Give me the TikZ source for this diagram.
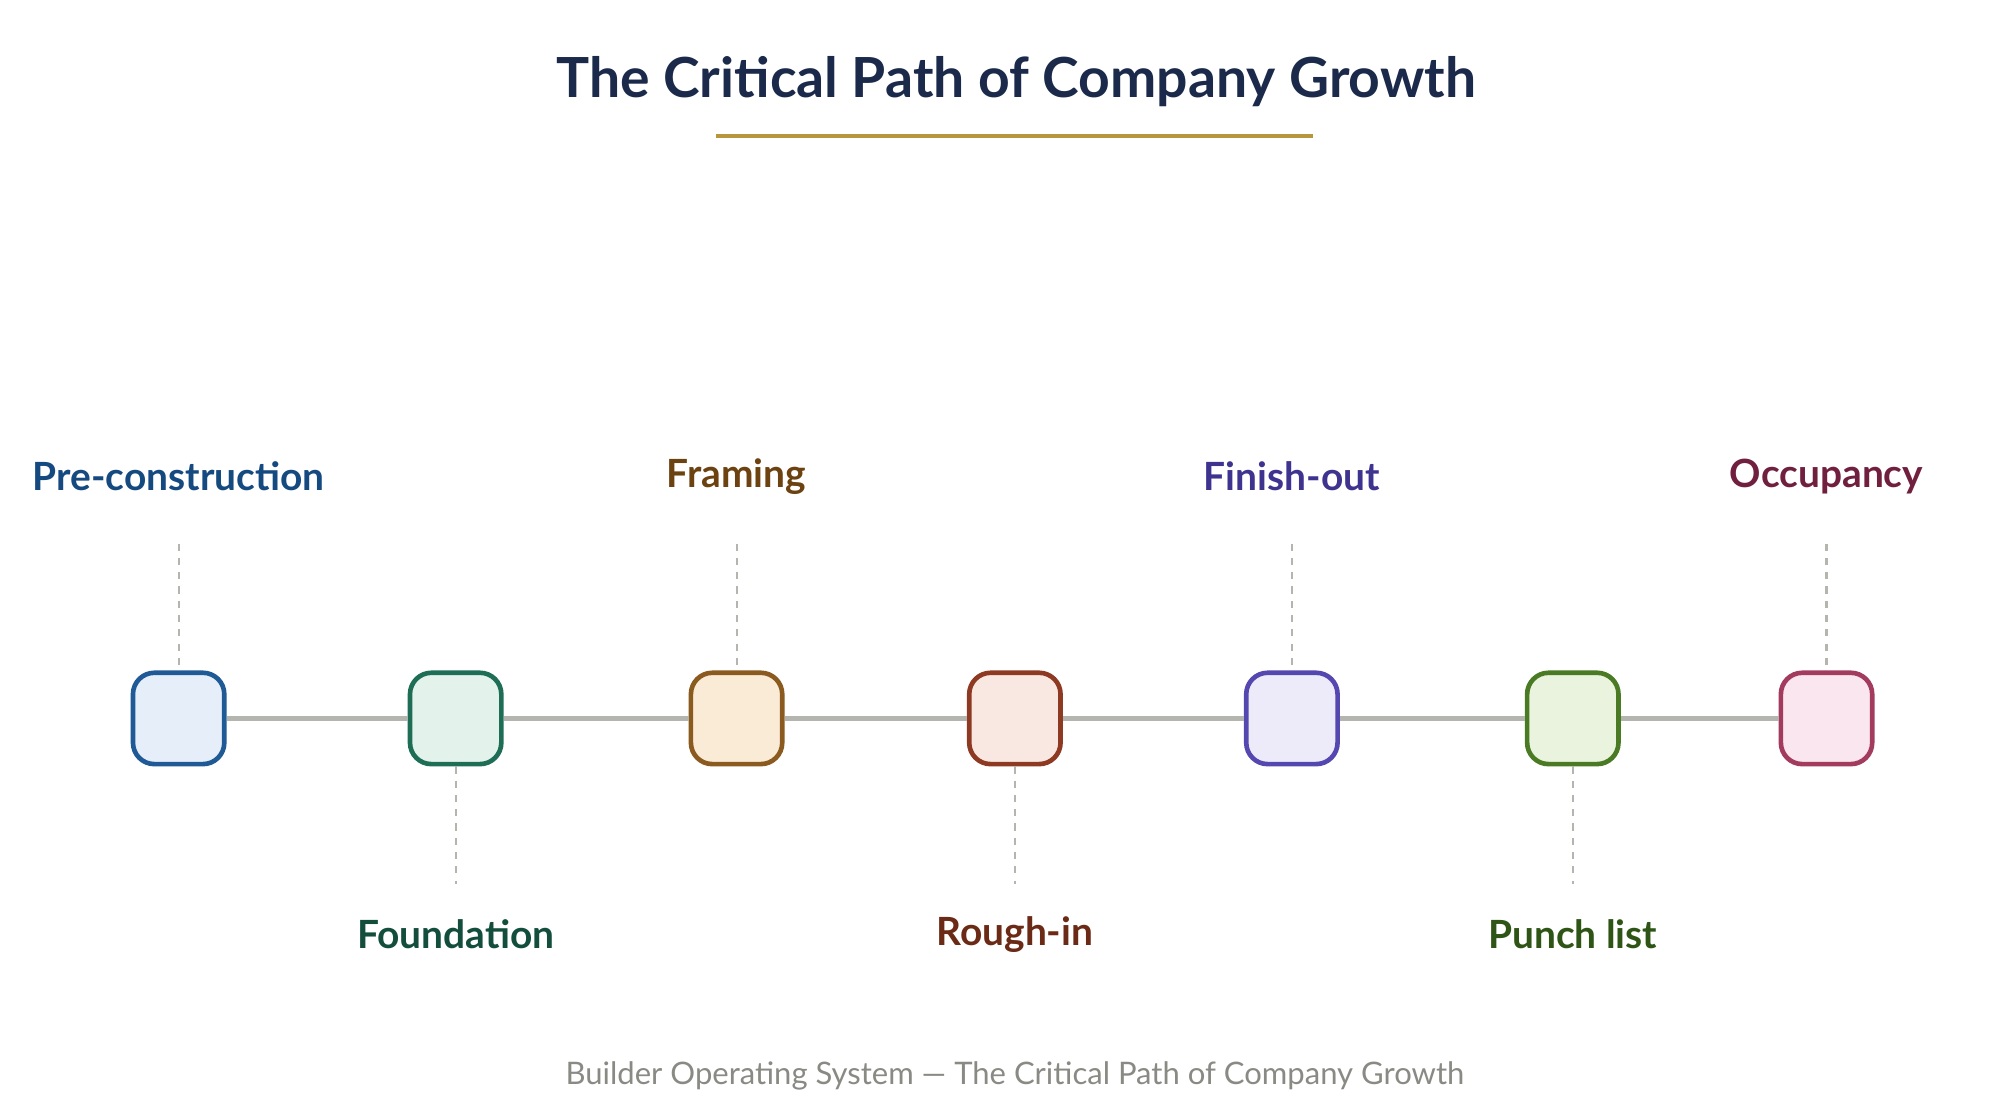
\documentclass[tikz,border=0pt]{standalone}
\usepackage{fontspec}
\setmainfont{Lato}
\usetikzlibrary{positioning}
\definecolor{navy}{HTML}{1B2A4A}
\definecolor{gold}{HTML}{B8963E}
\definecolor{track}{HTML}{B5B5B0}
\definecolor{foot}{HTML}{8A8A85}
\tikzset{
  stage/.style={draw, line width=1.3pt, rounded corners=6pt, minimum size=0.9cm, inner sep=0pt},
  phase/.style={font=\bfseries\fontsize{10.9}{13}\selectfont, inner sep=0pt},
  tick/.style={draw=track, dashed, dash pattern=on 2pt off 2pt, line width=0.6pt}
}
\begin{document}
\begin{tikzpicture}[x=0.012755cm, y=-0.012755cm]
  \useasboundingbox[fill=white] (0,0) rectangle (1545,863);

  \node[text=navy, font=\bfseries\fontsize{15.5}{19}\selectfont] (title) at (785,63) {The Critical Path of Company Growth};
  \coordinate (ulA) at (553,105);
  \coordinate (ulB) at (1014,105);
  \draw[gold, line width=1.2pt] (ulA) -- (ulB);

  % stages along the path
  \foreach \n/\x/\st/\fl/\tx/\lab/\up in {
      s1/138/1F5A96/E6EFF9/154A80/Pre-construction/1,
      s2/352/1E6E55/E3F3EC/134D3C/Foundation/0,
      s3/569/8A5A1E/FAEBD7/6B4210/Framing/1,
      s4/784/8E3A22/F9E8E2/6B2A15/Rough-in/0,
      s5/998/5547B0/EDEBFA/3E3490/Finish-out/1,
      s6/1215/4A7A23/E9F3DD/2E5515/Punch list/0,
      s7/1411/A33B5E/F9E6EE/70203E/Occupancy/1} {
    \definecolor{st\n}{HTML}{\st}
    \definecolor{fl\n}{HTML}{\fl}
    \definecolor{tx\n}{HTML}{\tx}
    \node[stage, draw=st\n, fill=fl\n] (\n) at (\x,555) {};
    \ifnum\up=1
      \node[phase, text=tx\n] (\n-lab) at (\x,368) {\lab};
      \coordinate (\n-end) at (\x,420);
      \draw[tick] (\n-end) -- (\n.north);
    \else
      \node[phase, text=tx\n] (\n-lab) at (\x,722) {\lab};
      \coordinate (\n-end) at (\x,683);
      \draw[tick] (\n.south) -- (\n-end);
    \fi
  }

  \foreach \a/\b in {s1/s2, s2/s3, s3/s4, s4/s5, s5/s6, s6/s7}
    \draw[track, line width=1.4pt] (\a.east) -- (\b.west);

  \node[text=foot, font=\fontsize{8.7}{11}\selectfont] (footer) at (784,831) {Builder Operating System — The Critical Path of Company Growth};
\end{tikzpicture}
\end{document}
